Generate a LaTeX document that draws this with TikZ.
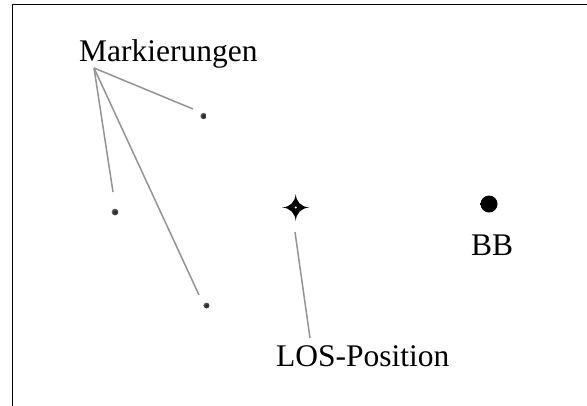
\documentclass[tikz,border=0pt]{standalone}
\usepackage{fontspec}
\setmainfont{Liberation Serif}
% soft round spots: solid core with a blurred rim
\pgfdeclareradialshading{softdot}{\pgfpoint{0bp}{0bp}}{color(0bp)=(black); color(26bp)=(black); color(50bp)=(white)}
\pgfdeclareradialshading{softmark}{\pgfpoint{0bp}{0bp}}{color(0bp)=(black!85); color(18bp)=(black!75); color(50bp)=(white)}
\begin{document}
\begin{tikzpicture}[x=1pt, y=-1pt,
  label text/.style={font=\fontsize{31.5}{36}\selectfont, inner sep=0pt, anchor=base west},
  pointer/.style={draw=black!42, line width=1.5pt},
  frame line/.style={draw=black, line width=1.8pt},
  mark spot/.style={shading=softmark},
  bright spot/.style={shading=softdot}]
\useasboundingbox (0,0) rectangle (587,405);
\begin{scope}
  \clip (0,0) rectangle (587,405);
  \draw[frame line] (12.5,420) -- (12.5,4.5) -- (600,4.5);
\end{scope}

% labels
\node[label text] (mark) at (79,61) {Markierungen};
\node[label text] (los) at (276,366) {LOS-Position};
\node[label text] (bb) at (471,255) {BB};

% marker spots
\shade[mark spot] (203.5,116) circle (3.2);
\shade[mark spot] (115,212) circle (3.4);
\shade[mark spot] (206.5,305.5) circle (3.0);
\coordinate (m1) at (203.5,116);
\coordinate (m2) at (115,212);
\coordinate (m3) at (206.5,305.5);

% bright source
\shade[bright spot] (489,204) circle (8.5);
\coordinate (src) at (489,204);

% line-of-sight star
\coordinate (star) at (295.7,207.5);
\fill[black] (star) ++(13.5,0)
  .. controls +(-8,-0.6) and +(0.6,8) .. ++(-13.5,-13.5)
  .. controls +(-0.6,8) and +(8,-0.6) .. ++(-13.5,13.5)
  .. controls +(8,0.6) and +(-0.6,-8) .. ++(13.5,13.5)
  .. controls +(0.6,-8) and +(-8,0.6) .. cycle;
\fill[white] (star) circle (1.1);

% pointer lines
\coordinate (apex) at (94,68);
\coordinate (e1) at (193,109);
\coordinate (e2) at (113,192);
\coordinate (e3) at (199,295);
\coordinate (s1) at (295,232);
\coordinate (s2) at (310,338);
\draw[pointer] (apex) -- (e1);
\draw[pointer] (apex) -- (e2);
\draw[pointer] (apex) -- (e3);
\draw[pointer] (s1) -- (s2);
\end{tikzpicture}
\end{document}
